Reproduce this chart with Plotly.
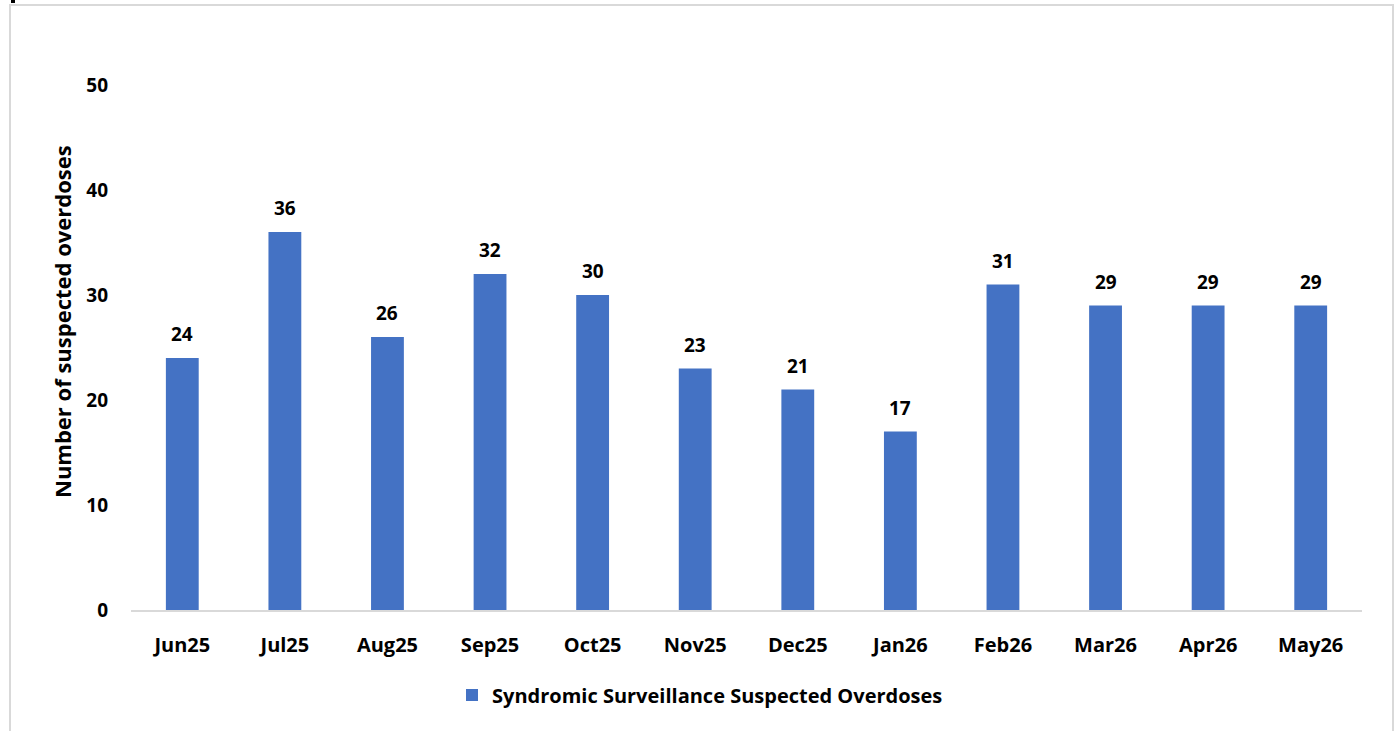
import plotly.graph_objects as go

months = ["Jun25", "Jul25", "Aug25", "Sep25", "Oct25", "Nov25", "Dec25",
          "Jan26", "Feb26", "Mar26", "Apr26", "May26"]
overdoses = [24, 36, 26, 32, 30, 23, 21, 17, 31, 29, 29, 29]
y_ticks = [0, 10, 20, 30, 40, 50]

FONT = "Open Sans"
L, R, T, B = 131, 38, 85, 121
W, H = 1400, 731
pw, ph = W - L - R, H - T - B

def px(x):
    return (x - L) / pw

def py(y):
    return (H - B - y) / ph

fig = go.Figure()
fig.add_trace(go.Bar(
    x=months, y=overdoses,
    name="Syndromic Surveillance Suspected Overdoses",
    marker=dict(color="#4472C4", line=dict(width=0)),
    width=0.32,
))

for m, v in zip(months, overdoses):
    fig.add_annotation(x=m, y=v, text=str(v), showarrow=False,
                       xref="x", yref="y", yanchor="bottom", yshift=9,
                       font=dict(family=FONT, size=19, color="#000000", weight="bold"))

fig.add_annotation(text="Number of suspected overdoses", textangle=-90,
                   xref="paper", yref="paper", x=px(62), y=py(322),
                   xanchor="center", yanchor="middle", showarrow=False,
                   font=dict(family=FONT, size=22, color="#000000", weight="bold"))

fig.update_layout(
    width=W, height=H,
    margin=dict(l=L, r=R, t=T, b=B),
    plot_bgcolor="white", paper_bgcolor="white",
    font=dict(family=FONT, size=18, color="#000000", weight="bold"),
    showlegend=True,
    legend=dict(orientation="h", x=px(700), xanchor="center",
                y=py(695), yanchor="middle", itemwidth=30,
                font=dict(family=FONT, size=20, color="#000000", weight="bold")),
    bargap=0.68,
    xaxis=dict(showgrid=False, showline=True, linecolor="#d9d9d9", linewidth=2,
               ticks="", ticklabelstandoff=16,
               tickfont=dict(family=FONT, size=20, color="#000000", weight="bold")),
    yaxis=dict(range=[0, 50], tickvals=y_ticks, showgrid=False, zeroline=False,
               showline=False, ticks="", ticklabelstandoff=22,
               tickfont=dict(family=FONT, size=19, color="#000000", weight="bold")),
    shapes=[
        dict(type="rect", xref="paper", yref="paper",
             x0=px(10), x1=px(1393), y0=py(5), y1=py(760),
             line=dict(color="#d9d9d9", width=2), fillcolor="rgba(0,0,0,0)", layer="below"),
        dict(type="rect", xref="paper", yref="paper",
             x0=px(11), x1=px(15), y0=py(0), y1=py(3),
             line=dict(width=0), fillcolor="#000000"),
    ],
)

fig.write_html("out.html", config={"displayModeBar": False},
               post_script="document.body.style.margin='0';document.body.style.overflow='hidden';")
